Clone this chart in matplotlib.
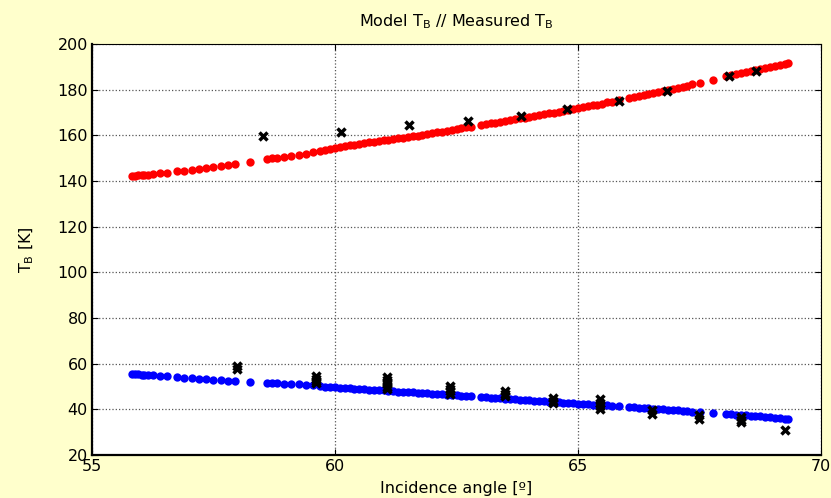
"""Model vs measured brightness temperature against incidence angle."""

import matplotlib.pyplot as plt

plt.rcParams["font.family"] = ["DejaVu Sans"]

# model angles shared by both polarisations
model_angle = [
    55.82, 55.88, 55.95, 56.02, 56.08, 56.15, 56.25, 56.40, 56.55, 56.75,
    56.90, 57.05, 57.20, 57.35, 57.50, 57.65, 57.80, 57.95, 58.25, 58.60,
    58.70, 58.80, 58.95, 59.10, 59.25, 59.40, 59.55, 59.70, 59.80, 59.90,
    60.00, 60.10, 60.20, 60.30, 60.40, 60.50, 60.60, 60.70, 60.80, 60.90,
    61.00, 61.10, 61.20, 61.30, 61.40, 61.50, 61.60, 61.70, 61.80, 61.90,
    62.00, 62.10, 62.20, 62.30, 62.40, 62.50, 62.60, 62.70, 62.80, 63.00,
    63.10, 63.20, 63.30, 63.40, 63.50, 63.60, 63.70, 63.80, 63.90, 64.00,
    64.10, 64.20, 64.30, 64.40, 64.50, 64.60, 64.70, 64.80, 64.90, 65.00,
    65.10, 65.20, 65.30, 65.40, 65.50, 65.60, 65.70, 65.85, 66.05, 66.15,
    66.25, 66.35, 66.45, 66.55, 66.65, 66.75, 66.85, 66.95, 67.05, 67.15,
    67.25, 67.35, 67.50, 67.78, 68.05, 68.15, 68.25, 68.35, 68.45, 68.55,
    68.65, 68.75, 68.85, 68.95, 69.05, 69.15, 69.25, 69.32,
]
model_h = [
    142.3, 142.4, 142.5, 142.6, 142.7, 142.8, 143.0, 143.3, 143.5, 144.2,
    144.6, 145.0, 145.4, 145.8, 146.2, 146.7, 147.1, 147.4, 148.4, 149.6,
    150.0, 150.3, 150.7, 151.1, 151.5, 152.0, 152.6, 153.3, 153.8, 154.2,
    154.6, 154.9, 155.2, 155.6, 155.9, 156.2, 156.6, 156.9, 157.2, 157.5,
    157.8, 158.1, 158.4, 158.7, 159.0, 159.3, 159.6, 159.9, 160.3, 160.6,
    160.9, 161.3, 161.6, 162.0, 162.4, 162.8, 163.1, 163.5, 163.8, 164.5,
    164.9, 165.3, 165.6, 166.0, 166.3, 166.7, 167.1, 167.4, 167.8, 168.2,
    168.5, 168.9, 169.3, 169.7, 170.0, 170.4, 170.8, 171.1, 171.5, 171.9,
    172.3, 172.7, 173.1, 173.5, 173.9, 174.4, 174.8, 175.5, 176.4, 176.8,
    177.3, 177.7, 178.1, 178.6, 179.0, 179.5, 179.9, 180.4, 180.9, 181.3,
    181.8, 182.3, 183.0, 184.2, 185.9, 186.3, 186.8, 187.3, 187.7, 188.2,
    188.6, 189.1, 189.6, 190.1, 190.5, 191.0, 191.4, 191.8,
]
model_v = [
    55.5, 55.4, 55.3, 55.2, 55.1, 55.1, 55.0, 54.8, 54.5, 54.1,
    53.8, 53.6, 53.4, 53.2, 53.0, 52.8, 52.6, 52.4, 52.1, 51.7,
    51.6, 51.4, 51.3, 51.1, 50.9, 50.7, 50.5, 50.2, 49.9, 49.7,
    49.6, 49.4, 49.3, 49.2, 49.0, 48.9, 48.8, 48.6, 48.5, 48.4,
    48.3, 48.1, 48.0, 47.8, 47.7, 47.6, 47.4, 47.3, 47.2, 47.0,
    46.9, 46.8, 46.6, 46.5, 46.3, 46.2, 46.0, 45.9, 45.7, 45.4,
    45.3, 45.1, 45.0, 44.8, 44.7, 44.5, 44.4, 44.2, 44.1, 43.9,
    43.8, 43.7, 43.5, 43.4, 43.2, 43.1, 42.9, 42.8, 42.6, 42.5,
    42.3, 42.2, 42.1, 41.9, 41.8, 41.7, 41.5, 41.3, 41.0, 40.9,
    40.7, 40.6, 40.4, 40.3, 40.1, 40.0, 39.8, 39.7, 39.5, 39.4,
    39.2, 39.0, 38.8, 38.5, 38.0, 37.9, 37.7, 37.5, 37.4, 37.2,
    37.0, 36.9, 36.7, 36.5, 36.3, 36.1, 35.9, 35.6,
]

meas_h_angle = [58.52, 60.12, 61.52, 62.74, 63.83, 64.77, 65.84, 66.83, 68.11, 68.66]
meas_h = [159.7, 161.4, 164.5, 166.3, 168.5, 171.5, 175.0, 179.4, 186.0, 188.2]

meas_v_angle = [
    57.98, 57.98,
    59.60, 59.60, 59.60, 59.60,
    61.07, 61.07, 61.07, 61.07, 61.07, 61.07,
    62.37, 62.37, 62.37, 62.37,
    63.50, 63.50, 63.50,
    64.49, 64.49, 64.49,
    65.45, 65.45, 65.45, 65.45,
    66.52, 66.52,
    67.49, 67.49,
    68.35, 68.35, 68.35,
    69.26,
]
meas_v = [
    57.5, 58.8,
    51.5, 52.5, 53.5, 54.5,
    49.0, 50.0, 51.0, 52.0, 53.0, 54.0,
    46.8, 48.0, 49.0, 50.2,
    45.8, 46.8, 48.0,
    42.8, 43.8, 45.0,
    40.1, 41.5, 43.0, 44.5,
    38.0, 39.7,
    35.7, 37.5,
    34.4, 35.5, 36.6,
    31.1,
]

x_ticks = [55, 60, 65, 70]
y_ticks = list(range(20, 201, 20))

BG = "#FFFFCC"

fig = plt.figure(figsize=(8.31, 4.98), dpi=100, facecolor=BG)
ax = fig.add_axes([0.1107, 0.0863, 0.8773, 0.8253])

ax.plot(model_angle, model_h, "o", color="#FF0000", ms=6, mec="none")
ax.plot(model_angle, model_v, "o", color="#0000FF", ms=6, mec="none")
ax.plot(meas_h_angle, meas_h, "x", color="black", ms=6, mew=2.5)
ax.plot(meas_v_angle, meas_v, "x", color="black", ms=6, mew=2.5)

ax.set_xlim(55, 70)
ax.set_ylim(20, 200)
ax.set_xticks(x_ticks)
ax.set_yticks(y_ticks)
ax.tick_params(direction="in", length=4, labelsize=11.5, top=True, right=True,
               labeltop=False, labelright=False, pad=3)
ax.grid(True, linestyle=":", color="#555555", linewidth=0.9)
for side in ["left", "bottom"]:
    ax.spines[side].set_linewidth(1.6)
for side in ["top", "right"]:
    ax.spines[side].set_linewidth(0.8)

ax.set_title("Model T$_\\mathregular{B}$ // Measured T$_\\mathregular{B}$", fontsize=11.5, pad=13)
ax.set_xlabel("Incidence angle [º]", fontsize=11.5)
ax.set_ylabel("T$_\\mathregular{B}$ [K]", fontsize=11.5)
ax.xaxis.set_label_coords(0.5, -0.062)
ax.yaxis.set_label_coords(-0.077, 0.5)

fig.savefig("out.png", dpi=100, facecolor=BG)
